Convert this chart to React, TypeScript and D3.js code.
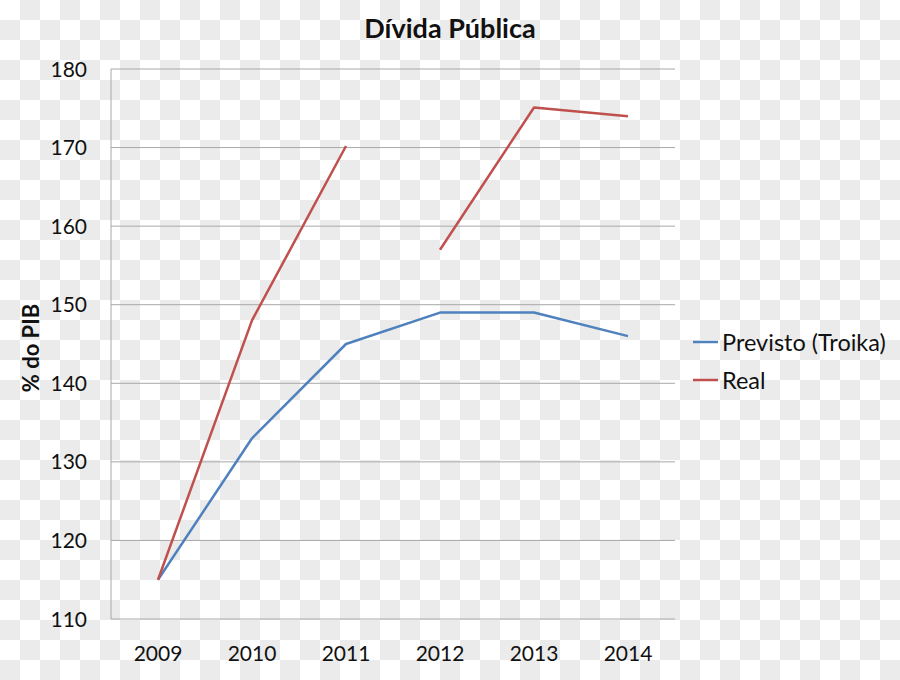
import React from "react";
import * as d3 from "d3";

const years = ["2009", "2010", "2011", "2012", "2013", "2014"];
const previsto: (number | null)[] = [115, 133, 145, 149, 149, 146];
const realPart1: (number | null)[] = [115, 148, 170.2, null, null, null];
const realPart2: (number | null)[] = [null, null, null, 157, 175.1, 174];
const yTicks = [110, 120, 130, 140, 150, 160, 170, 180];

const W = 900, H = 680;
const M = { left: 111, right: 675, top: 69, bottom: 619 };
const FONT = "Lato, 'Open Sans', sans-serif";
const BLUE = "#4f81bd";
const RED = "#c0504d";

export default function App() {
  const x = d3.scaleBand<string>().domain(years).range([M.left, M.right]);
  const y = d3.scaleLinear().domain([110, 180]).range([M.bottom, M.top]);
  const cx = (yr: string) => (x(yr) as number) + x.bandwidth() / 2;

  const line = d3
    .line<number | null>()
    .defined((d) => d !== null)
    .x((_, i) => cx(years[i]))
    .y((d) => y(d as number));

  const cell = 20;
  const cols = Math.ceil(W / cell);
  const rows = Math.ceil(H / cell);
  const checks: JSX.Element[] = [];
  for (let r = 0; r < rows; r++)
    for (let c = 0; c < cols; c++)
      if ((r + c) % 2 === 1)
        checks.push(<rect key={`${r}-${c}`} x={c * cell} y={r * cell} width={cell} height={cell} fill="#ebebeb" />);

  return (
    <svg width={W} height={H} style={{ position: "absolute", left: 0, top: 0 }} fontFamily={FONT}>
      <rect width={W} height={H} fill="#ffffff" />
      {checks}
      {yTicks.map((t) => (
        <line key={t} x1={M.left} x2={M.right} y1={y(t)} y2={y(t)} stroke="#a8a8a8" strokeWidth={1} />
      ))}
      <line x1={M.left} x2={M.left} y1={M.top} y2={M.bottom} stroke="#a8a8a8" strokeWidth={1} />
      {yTicks.map((t) => (
        <text key={t} x={87} y={y(t)} dy="0.36em" textAnchor="end" fontSize={21} fill="#111">
          {t}
        </text>
      ))}
      {years.map((yr) => (
        <text key={yr} x={cx(yr)} y={661} textAnchor="middle" fontSize={21} fill="#111">
          {yr}
        </text>
      ))}
      <text x={450} y={38} textAnchor="middle" fontSize={27} fontWeight="bold" fill="#111">
        Dívida Pública
      </text>
      <text
        transform={`translate(39, ${(M.top + M.bottom) / 2 + 4}) rotate(-90)`}
        textAnchor="middle"
        fontSize={22}
        fontWeight="bold"
        fill="#111"
      >
        % do PIB
      </text>
      <path d={line(previsto) || ""} fill="none" stroke={BLUE} strokeWidth={2.5} strokeLinejoin="round" />
      <path d={line(realPart1) || ""} fill="none" stroke={RED} strokeWidth={2.5} strokeLinejoin="round" />
      <path d={line(realPart2) || ""} fill="none" stroke={RED} strokeWidth={2.5} strokeLinejoin="round" />
      <line x1={693} x2={718} y1={342} y2={342} stroke={BLUE} strokeWidth={2.5} />
      <text x={722} y={351} fontSize={23.5} fill="#111">Previsto (Troika)</text>
      <line x1={693} x2={718} y1={380} y2={380} stroke={RED} strokeWidth={2.5} />
      <text x={722} y={389} fontSize={23.5} fill="#111">Real</text>
    </svg>
  );
}
